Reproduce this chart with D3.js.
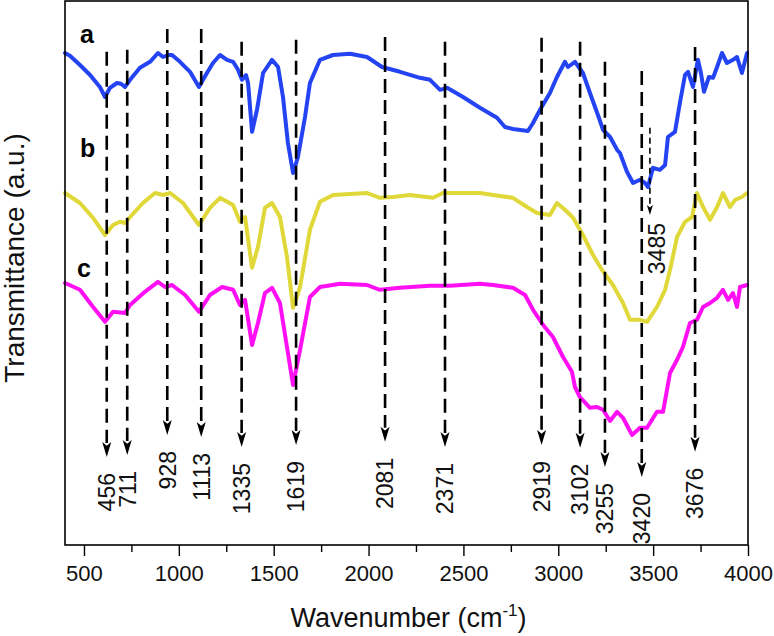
<!DOCTYPE html>
<html>
<head>
<meta charset="utf-8">
<script src="https://cdn.jsdelivr.net/npm/d3@7"></script>
<style>
  html, body { margin: 0; padding: 0; background: #fff; }
  svg { display: block; }
  text { font-family: Arial, "Liberation Sans", sans-serif; }
</style>
</head>
<body>
<svg id="chart" width="774" height="636"></svg>
<script>
// ---------- DATA ----------
const seriesNames = ["a", "b", "c"];
const seriesColors = ["#2443f2", "#e0d838", "#ff10f4"];

// curve a (blue): [wavenumber, transmittance a.u.]
const curveA = [
  [400,123],[426,122.3],[479,120],[532,117.5],[584,114.5],[611,112],[637,114.3],[674,115.5],[695,115.3],[716,114.5],
  [743,116.3],[795,119.3],[848,120.8],[890,123],[917,122],[943,122.5],[964,122.5],[1006,120.8],[1059,118.3],[1106,114.5],
  [1148,118],[1180,120.5],[1217,122.5],[1254,121.3],[1286,120.8],[1312,118.8],[1333,116.3],[1354,117.5],[1365,115.5],[1386,103.3],
  [1412,108.8],[1444,118],[1491,121.3],[1523,119.5],[1549,112],[1575,100.5],[1602,93],[1628,97],[1665,107],[1691,115.5],
  [1744,121.3],[1813,122.5],[1902,122.8],[1992,122],[2071,119.5],[2166,118.3],[2271,116.8],[2324,116.3],[2377,113.8],[2414,114.3],
  [2498,112],[2587,109.3],[2677,106.8],[2719,104.5],[2761,104],[2840,103.5],[2867,105.5],[2904,108.8],[2956,113],[2993,117],
  [3035,120.8],[3051,119.5],[3088,120.8],[3130,118],[3167,113],[3209,107.5],[3236,103.8],[3273,102],[3310,98.8],[3325,98],
  [3362,93.3],[3394,90.5],[3431,91.3],[3457,90.5],[3473,89.5],[3499,94.3],[3536,93.8],[3563,95],[3578,102],[3615,103.3],
  [3641,110.5],[3668,117.5],[3684,118.3],[3710,114.5],[3736,121.3],[3752,118],[3768,113.3],[3794,117],[3816,116.8],[3837,119.5],
  [3863,123],[3889,120.5],[3921,121.3],[3942,122],[3968,118],[3995,123]
];

// curve b (yellow)
const curveB = [
  [400,88],[479,85.5],[548,81.8],[611,77.5],[653,80],[690,80.8],[716,80.5],[743,82],[811,85.5],[874,88],
  [917,87.5],[954,88],[1022,85.5],[1106,80],[1164,84.3],[1217,86.8],[1286,85],[1322,80.8],[1349,82],[1386,69.3],
  [1417,74.5],[1454,84.3],[1491,85.5],[1533,82],[1570,72],[1602,59.3],[1639,64.5],[1691,78.8],[1744,85.8],[1813,87.5],
  [1992,88],[2060,86.8],[2129,87],[2218,87.5],[2340,86.8],[2392,88],[2587,88],[2656,87.5],[2761,86.8],[2835,84.5],
  [2888,83],[2956,82.5],[2993,85.5],[3035,83.8],[3078,81.8],[3130,77.5],[3183,72.5],[3230,68.8],[3288,65],[3341,60.5],
  [3378,56.3],[3431,56.3],[3468,55.8],[3520,59.5],[3563,63.8],[3589,68.8],[3626,77],[3668,80.8],[3705,82],[3731,88],
  [3763,84.5],[3800,81.3],[3837,84.5],[3868,88],[3905,84.5],[3932,86.3],[3968,87],[3995,88]
];

// curve c (magenta)
const curveC = [
  [400,65.5],[479,63.8],[548,59.5],[611,55.8],[653,58.3],[716,58],[743,60],[821,63.3],[890,65.8],[927,64.5],
  [964,65],[1033,62.5],[1106,58.3],[1164,62.5],[1228,64.5],[1286,63.8],[1322,60],[1349,61.3],[1386,50],[1417,55.5],
  [1454,63],[1491,64.3],[1533,60.5],[1570,49.5],[1602,40],[1639,48.8],[1691,62],[1744,64.5],[1850,65.3],[1992,65],
  [2060,63.8],[2166,64.3],[2324,64.8],[2429,64.8],[2587,65.3],[2656,65],[2761,64.3],[2825,62.5],[2867,58.8],[2920,55],
  [2972,52],[3025,47],[3072,43.3],[3088,39.5],[3114,37],[3167,34.3],[3204,34.5],[3236,33.8],[3273,31],[3310,33.3],
  [3341,31.8],[3389,27.5],[3431,29.3],[3468,29.3],[3520,33.3],[3552,33.3],[3573,38.8],[3589,43],[3626,46.3],[3657,49.5],
  [3694,55.5],[3731,56.3],[3763,59.5],[3800,60.5],[3837,61.8],[3868,63.8],[3895,61.3],[3921,63],[3942,59.5],[3958,64.5],
  [3995,65]
];

// peak annotations: label text, arrow wavenumber (as drawn), line top and arrow tip (a.u.)
const peakLabels = ["456","711","928","1113","1335","1619","2081","2371","2919","3102","3255","3420","3676"];
const peakX      = [620, 728, 939, 1118, 1331, 1618, 2087, 2403, 2912, 3115, 3246, 3440, 3721];
const peakTop    = [123.3,123.8,129,129,125.8,126.3,127,125.8,126.8,125.8,120.8,118.5,124.5];
const peakTip    = [22,22.5,27.5,27,24.5,25,25.8,24.5,25,24.3,19.5,17,23.3];

// extra small annotation on curve a
const extraLabel = "3485";
const extraX = 3483, extraTop = 104.3, extraTip = 82.5;

// series letter labels (wavenumber, a.u. baseline)
const letterX = [479, 479, 463];
const letterY = [125.5, 97, 67];

const majorTicks = [500,1000,1500,2000,2500,3000,3500,4000];
const minorTicks = [750,1250,1750,2250,2750,3250,3750];
const xTitle = "Wavenumber (cm";
const yTitle = "Transmittance (a.u.)";

// ---------- DRAW ----------
const svg = d3.select("#chart");
const L = 65, R = 748, T = 1, B = 545;
const x = d3.scaleLinear().domain([400, 4000]).range([L, R]);
const y = d3.scaleLinear().domain([0, 136]).range([B, T]);

// curves
const line = d3.line().x(d => x(d[0])).y(d => y(d[1])).curve(d3.curveLinear);
[curveA, curveB, curveC].forEach((c, i) => {
  svg.append("path").datum(c)
    .attr("d", line)
    .attr("fill", "none")
    .attr("stroke", seriesColors[i])
    .attr("stroke-width", 4)
    .attr("stroke-linejoin", "round")
    .attr("stroke-linecap", "round");
});

// dashed arrows
function arrow(wx, top, tip, w, headW, headH, dash) {
  const px = x(wx), py0 = y(top), py1 = y(tip);
  svg.append("line")
    .attr("x1", px).attr("x2", px)
    .attr("y1", py0).attr("y2", py1 - headH + 1)
    .attr("stroke", "#000").attr("stroke-width", w)
    .attr("stroke-dasharray", dash);
  svg.append("path")
    .attr("d", `M${px},${py1} L${px - headW / 2},${py1 - headH} L${px},${py1 - headH * 0.75} L${px + headW / 2},${py1 - headH} Z`)
    .attr("fill", "#000");
}
peakLabels.forEach((lab, i) => {
  arrow(peakX[i], peakTop[i], peakTip[i], 2.6, 9, 15, "14,7");
  svg.append("text")
    .attr("transform", `translate(${x(peakX[i])},${y(peakTip[i]) + 16}) rotate(-90)`)
    .attr("text-anchor", "end")
    .attr("dy", "0.36em")
    .attr("font-size", 23)
    .attr("fill", "#111")
    .text(lab);
});
arrow(extraX, extraTop, extraTip, 1.6, 6, 10, "6,4");
svg.append("text")
  .attr("transform", `translate(${x(extraX) + 7},${y(extraTip) + 8}) rotate(-90)`)
  .attr("text-anchor", "end")
  .attr("dy", "0.36em")
  .attr("font-size", 23)
  .attr("fill", "#111")
  .text(extraLabel);

// series letters
seriesNames.forEach((n, i) => {
  svg.append("text")
    .attr("x", x(letterX[i])).attr("y", y(letterY[i]))
    .attr("font-size", 25).attr("font-weight", "bold")
    .attr("fill", "#000")
    .text(n);
});

// frame
svg.append("rect")
  .attr("x", L).attr("y", T).attr("width", R - L).attr("height", B - T)
  .attr("fill", "none").attr("stroke", "#000").attr("stroke-width", 1.6);

// x axis
const ax = svg.append("g").attr("transform", `translate(0,${B})`)
  .call(d3.axisBottom(x).tickValues(majorTicks).tickSize(11).tickPadding(9).tickFormat(d3.format("d")));
ax.select(".domain").remove();
ax.selectAll(".tick line").attr("stroke", "#000").attr("stroke-width", 1.4);
ax.selectAll(".tick text").attr("font-size", 22).attr("fill", "#111")
  .attr("font-family", "Arial, 'Liberation Sans', sans-serif");
const axm = svg.append("g").attr("transform", `translate(0,${B})`)
  .call(d3.axisBottom(x).tickValues(minorTicks).tickSize(7).tickFormat(""));
axm.select(".domain").remove();
axm.selectAll(".tick line").attr("stroke", "#000").attr("stroke-width", 1.4);

// titles
const xt = svg.append("text")
  .attr("x", (L + R) / 2 + 2).attr("y", 627)
  .attr("text-anchor", "middle")
  .attr("font-size", 27).attr("fill", "#111");
xt.append("tspan").text(xTitle);
xt.append("tspan").attr("font-size", 17).attr("dy", -11).text("-1");
xt.append("tspan").attr("dy", 11).text(")");

svg.append("text")
  .attr("transform", `translate(24,258) rotate(-90)`)
  .attr("text-anchor", "middle")
  .attr("font-size", 28).attr("fill", "#111")
  .text(yTitle);
</script>
</body>
</html>
